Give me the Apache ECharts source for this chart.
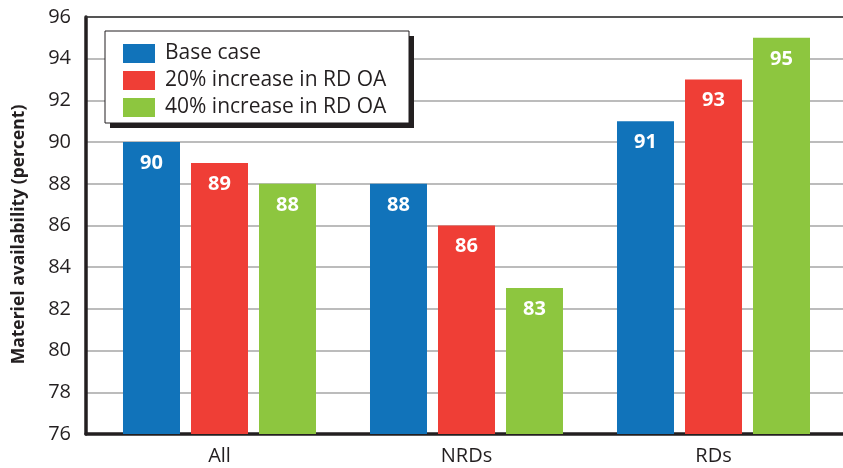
<!DOCTYPE html>
<html>
<head>
<meta charset="utf-8">
<script src="https://cdn.jsdelivr.net/npm/echarts@6/dist/echarts.min.js"></script>
<style>
  html, body { margin: 0; padding: 0; background: #fff; }
  #chart { width: 843px; height: 468px; }
</style>
</head>
<body>
<div id="chart"></div>
<script>
// Materiel availability by item group under three operating-availability scenarios
const categories = ['All', 'NRDs', 'RDs'];
const seriesNames = ['Base case', '20% increase in RD OA', '40% increase in RD OA'];
const baseCase = [90, 88, 91];
const increase20 = [89, 86, 93];
const increase40 = [88, 83, 95];
const yTicks = { min: 76, max: 96, step: 2 };

const colors = ['#1173BA', '#EF3E36', '#8DC63F'];
const ink = '#231F20';
const font = '"Open Sans", "Noto Sans", sans-serif';

const chart = echarts.init(document.getElementById('chart'), null, { renderer: 'canvas' });

function barSeries(name, values, color) {
  return {
    name: name,
    type: 'bar',
    xAxisIndex: 2,
    yAxisIndex: 1,
    data: values,
    barWidth: 57,
    barGap: '19.3%',
    itemStyle: { color: color },
    label: {
      show: true,
      position: 'insideTop',
      distance: 11,
      color: '#fff',
      fontWeight: 'bold',
      fontSize: 20,
      fontFamily: font
    }
  };
}

chart.setOption({
  animation: false,
  backgroundColor: '#fff',
  color: colors,
  // grid 0 carries the frame, value axis and gridlines; grid 1 carries the bars
  grid: [
    { left: 86, right: 0, top: 17, bottom: 34, containLabel: false },
    { left: 96, right: 6, top: 17, bottom: 34, containLabel: false }
  ],
  // legend frame with a hard drop shadow
  graphic: [
    {
      type: 'rect', z: 50,
      shape: { x: 110, y: 36, width: 304, height: 92 },
      style: { fill: ink }
    },
    {
      type: 'rect', z: 51,
      shape: { x: 105, y: 31, width: 304, height: 92 },
      style: { fill: '#fff', stroke: ink, lineWidth: 1 }
    }
  ],
  legend: {
    orient: 'vertical',
    left: 123,
    top: 43,
    padding: 0,
    z: 60,
    itemWidth: 32,
    itemHeight: 19,
    itemGap: 6,
    icon: 'rect',
    textStyle: { color: ink, fontSize: 21, fontFamily: font, padding: [0, 0, 0, 5] },
    data: seriesNames
  },
  xAxis: [
    {
      gridIndex: 0, type: 'category', position: 'bottom', data: categories,
      axisLine: { show: true, lineStyle: { color: ink, width: 3.5 } },
      axisTick: { show: false }, axisLabel: { show: false }, splitLine: { show: false }
    },
    {
      gridIndex: 0, type: 'category', position: 'top', data: categories,
      axisLine: { show: true, lineStyle: { color: '#333', width: 1.5 } },
      axisTick: { show: false }, axisLabel: { show: false }, splitLine: { show: false }
    },
    {
      gridIndex: 1, type: 'category', position: 'bottom', data: categories,
      axisLine: { show: false }, axisTick: { show: false },
      axisLabel: { color: ink, fontSize: 20, fontFamily: font, margin: 12 }
    }
  ],
  yAxis: [
    {
      gridIndex: 0, type: 'value',
      min: yTicks.min, max: yTicks.max, interval: yTicks.step,
      name: 'Materiel availability (percent)',
      nameLocation: 'middle',
      nameGap: 58,
      nameTextStyle: { color: ink, fontSize: 17.5, fontWeight: 'bold', fontFamily: font, padding: [0, 18, 0, 0] },
      axisLine: { show: true, lineStyle: { color: ink, width: 3.5 } },
      axisTick: { show: false },
      axisLabel: { color: ink, fontSize: 20, fontFamily: font, margin: 15 },
      splitLine: { show: true, lineStyle: { color: '#A6A6A6', width: 1.5 } }
    },
    {
      gridIndex: 1, type: 'value',
      min: yTicks.min, max: yTicks.max, interval: yTicks.step,
      show: false
    }
  ],
  series: [
    barSeries(seriesNames[0], baseCase, colors[0]),
    barSeries(seriesNames[1], increase20, colors[1]),
    barSeries(seriesNames[2], increase40, colors[2])
  ]
});
</script>
</body>
</html>
